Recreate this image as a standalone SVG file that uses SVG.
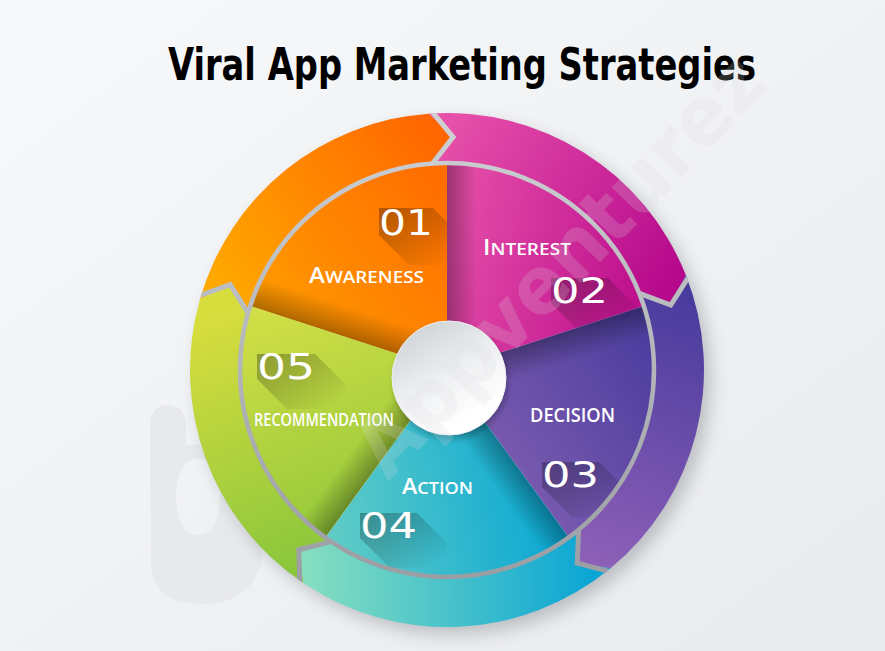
<svg xmlns="http://www.w3.org/2000/svg" width="885" height="651" viewBox="0 0 885 651">
<defs>
<style>
.lbl{font-family:"Open Sans","Liberation Sans",sans-serif;font-weight:600;fill:#ffffff}
.num{font-family:"DejaVu Sans","Liberation Sans",sans-serif;font-size:36px;fill:#ffffff}
.sep{fill:none;stroke:url(#gray);stroke-width:5;stroke-linejoin:miter}
.wsh{fill:url(#wsh)}
.ls{fill:url(#ls)}
</style>
<linearGradient id="bg" x1="0" y1="0" x2="1" y2="1"><stop offset="0" stop-color="#f8f9fa"/><stop offset="1" stop-color="#e8eaed"/></linearGradient>
<linearGradient id="gray" gradientUnits="userSpaceOnUse" x1="0" y1="110" x2="0" y2="630"><stop offset="0" stop-color="#cfd1d4"/><stop offset="1" stop-color="#95989d"/></linearGradient>
<linearGradient id="wsh" x1="0" y1="0" x2="0" y2="1"><stop offset="0" stop-color="#000" stop-opacity="0.32"/><stop offset="1" stop-color="#000" stop-opacity="0"/></linearGradient>
<linearGradient id="ls" x1="0" y1="0" x2="1" y2="1"><stop offset="0" stop-color="#000" stop-opacity="0.3"/><stop offset="0.45" stop-color="#000" stop-opacity="0.16"/><stop offset="0.9" stop-color="#000" stop-opacity="0"/></linearGradient>
<linearGradient id="hub" x1="0.2" y1="0.1" x2="0.65" y2="0.85"><stop offset="0" stop-color="#d3d6d9"/><stop offset="0.5" stop-color="#eceef0"/><stop offset="1" stop-color="#ffffff"/></linearGradient>
<linearGradient id="gO" gradientUnits="userSpaceOnUse" x1="205" y1="300" x2="445" y2="120"><stop offset="0" stop-color="#ffad00"/><stop offset="1" stop-color="#ff6300"/></linearGradient>
<linearGradient id="gOi" gradientUnits="userSpaceOnUse" x1="255" y1="320" x2="445" y2="175"><stop offset="0" stop-color="#ff9d00"/><stop offset="1" stop-color="#ff6c00"/></linearGradient>
<linearGradient id="gP" gradientUnits="userSpaceOnUse" x1="445" y1="130" x2="690" y2="290"><stop offset="0" stop-color="#e750aa"/><stop offset="1" stop-color="#b2048a"/></linearGradient>
<linearGradient id="gPi" gradientUnits="userSpaceOnUse" x1="450" y1="250" x2="640" y2="300"><stop offset="0" stop-color="#e34ba7"/><stop offset="1" stop-color="#bd0f8d"/></linearGradient>
<linearGradient id="gU" gradientUnits="userSpaceOnUse" x1="590" y1="565" x2="700" y2="290"><stop offset="0" stop-color="#8e60b8"/><stop offset="1" stop-color="#463a9c"/></linearGradient>
<linearGradient id="gUi" gradientUnits="userSpaceOnUse" x1="470" y1="450" x2="650" y2="330"><stop offset="0" stop-color="#7e5db1"/><stop offset="1" stop-color="#4b3d9e"/></linearGradient>
<linearGradient id="gT" gradientUnits="userSpaceOnUse" x1="300" y1="580" x2="610" y2="570"><stop offset="0" stop-color="#88dfc0"/><stop offset="1" stop-color="#03a2d6"/></linearGradient>
<linearGradient id="gTi" gradientUnits="userSpaceOnUse" x1="330" y1="540" x2="570" y2="500"><stop offset="0" stop-color="#60ccc6"/><stop offset="1" stop-color="#05a5d5"/></linearGradient>
<linearGradient id="gG" gradientUnits="userSpaceOnUse" x1="205" y1="320" x2="300" y2="575"><stop offset="0" stop-color="#d8dd3e"/><stop offset="1" stop-color="#88c63c"/></linearGradient>
<linearGradient id="gGi" gradientUnits="userSpaceOnUse" x1="250" y1="310" x2="330" y2="530"><stop offset="0" stop-color="#d3df46"/><stop offset="1" stop-color="#96c93b"/></linearGradient>
<filter id="blur" x="-20%" y="-20%" width="140%" height="140%"><feGaussianBlur stdDeviation="9"/></filter>
<filter id="blur2" x="-30%" y="-30%" width="160%" height="160%"><feGaussianBlur stdDeviation="3"/></filter>
<clipPath id="wc"><path d="M0,0 L207,0 A207,207 0 0 1 63.97,196.87 Z"/></clipPath>
<clipPath id="outer"><circle cx="447" cy="370" r="257"/></clipPath>
<clipPath id="pie"><circle cx="447" cy="370" r="207"/></clipPath>
</defs>

<rect width="885" height="651" fill="url(#bg)"/>
<path d="M150,425 C150,398 186,398 186,425 L186,445 C232,440 262,472 262,520 L262,560 C252,600 222,606 190,603 C165,602 152,585 151,565 Z M198,459 C215,459 220,480 220,497 C220,520 212,535 198,535 C184,535 176,520 176,497 C176,478 182,459 198,459 Z" fill="#e7e9ec" fill-rule="evenodd"/>

<text x="168" y="80" font-family="'DejaVu Sans','Liberation Sans',sans-serif" font-weight="bold" font-size="45" font-stretch="condensed" textLength="588" lengthAdjust="spacingAndGlyphs" fill="#000000">Viral App Marketing Strategies</text>

<circle cx="454" cy="378" r="256" fill="#5a5f66" opacity="0.35" filter="url(#blur)"/>

<g id="awareness">
<path d="M447,370 L250.13,306.03 A207,207 0 0 1 447,163 Z" fill="url(#gOi)"/>
<g transform="translate(447 370) rotate(198)"><rect width="207" height="30" class="wsh" clip-path="url(#wc)"/></g>
<path d="M199.96,299.16 A257,257 0 0 1 429.07,113.63 L453.10,137.08 L432.56,163.50 A207,207 0 0 0 248.02,312.94 L230.21,284.61 Z" fill="url(#gO)"/>
<polygon class="ls" points="379,208 433,208 463,238 463,265 409,265 379,235" clip-path="url(#pie)"/>
<text class="num" x="379" y="235" textLength="54" lengthAdjust="spacingAndGlyphs">01</text>
<text class="lbl" x="309" y="283" textLength="115" lengthAdjust="spacingAndGlyphs"><tspan font-size="21">A</tspan><tspan font-size="16.5">WARENESS</tspan></text>
</g>

<g id="interest">
<path d="M447,370 L447,163 A207,207 0 0 1 643.87,306.03 Z" fill="url(#gPi)"/>
<g transform="translate(447 370) rotate(270)"><rect width="207" height="30" class="wsh" clip-path="url(#wc)"/></g>
<path d="M429.07,113.63 A257,257 0 0 1 685.79,274.97 L670.75,305.00 L639.33,293.46 A207,207 0 0 0 432.56,163.50 L453.10,137.08 Z" fill="url(#gP)"/>
<polygon class="ls" points="551,278 608,278 638,308 638,333 581,333 551,303" clip-path="url(#pie)"/>
<text class="num" x="551" y="303" textLength="57" lengthAdjust="spacingAndGlyphs">02</text>
<text class="lbl" x="483" y="255" textLength="88" lengthAdjust="spacingAndGlyphs"><tspan font-size="21">I</tspan><tspan font-size="16.5">NTEREST</tspan></text>
</g>

<g id="decision">
<path d="M447,370 L643.87,306.03 A207,207 0 0 1 568.67,537.47 Z" fill="url(#gUi)"/>
<g transform="translate(447 370) rotate(-18)"><rect width="207" height="30" class="wsh" clip-path="url(#wc)"/></g>
<path d="M685.79,274.97 A257,257 0 0 1 610.47,568.31 L577.29,563.17 L578.67,529.73 A207,207 0 0 0 639.33,293.46 L670.75,305.00 Z" fill="url(#gU)"/>
<polygon class="ls" points="542,462 599,462 629,492 629,517 572,517 542,487" clip-path="url(#pie)"/>
<text class="num" x="542" y="487" textLength="57" lengthAdjust="spacingAndGlyphs">03</text>
<text class="lbl" x="530" y="422" font-size="19" textLength="85" lengthAdjust="spacingAndGlyphs">DECISION</text>
</g>

<g id="action">
<path d="M447,370 L568.67,537.47 A207,207 0 0 1 325.33,537.47 Z" fill="url(#gTi)"/>
<g transform="translate(447 370) rotate(54)"><rect width="207" height="30" class="wsh" clip-path="url(#wc)"/></g>
<path d="M610.47,568.31 A257,257 0 0 1 303.29,583.06 L298.79,549.79 L331.25,541.61 A207,207 0 0 0 578.67,529.73 L577.29,563.17 Z" fill="url(#gT)"/>
<polygon class="ls" points="360,513 417,513 447,543 447,568 390,568 360,538" clip-path="url(#pie)"/>
<text class="num" x="360" y="538" textLength="57" lengthAdjust="spacingAndGlyphs">04</text>
<text class="lbl" x="402" y="494" textLength="71" lengthAdjust="spacingAndGlyphs"><tspan font-size="21">A</tspan><tspan font-size="16.5">CTION</tspan></text>
</g>

<g id="recommendation">
<path d="M447,370 L325.33,537.47 A207,207 0 0 1 250.13,306.03 Z" fill="url(#gGi)"/>
<g transform="translate(447 370) rotate(126)"><rect width="207" height="30" class="wsh" clip-path="url(#wc)"/></g>
<path d="M303.29,583.06 A257,257 0 0 1 199.96,299.16 L230.21,284.61 L248.02,312.94 A207,207 0 0 0 331.25,541.61 L298.79,549.79 Z" fill="url(#gG)"/>
<polygon class="ls" points="257,354 315,354 345,384 345,409 287,409 257,379" clip-path="url(#pie)"/>
<text class="num" x="257" y="379" textLength="58" lengthAdjust="spacingAndGlyphs">05</text>
<text class="lbl" x="254" y="426" font-size="17.5" textLength="140" lengthAdjust="spacingAndGlyphs">RECOMMENDATION</text>
</g>

<g id="connectors">
<circle cx="447" cy="370" r="207" fill="none" stroke="url(#gray)" stroke-width="4.5"/>
<g clip-path="url(#outer)">
<polyline class="sep" points="194.19,297.51 230.21,284.61 248.02,312.94"/>
<polyline class="sep" points="428.65,107.64 453.10,137.08 432.56,163.50"/>
<polyline class="sep" points="691.36,272.76 670.75,305.00 639.33,293.46"/>
<polyline class="sep" points="614.29,572.94 577.29,563.17 578.67,529.73"/>
<polyline class="sep" points="299.93,588.04 298.79,549.79 331.25,541.61"/>
</g>
</g>

<g id="hub">
<circle cx="451" cy="382" r="57" fill="#000" opacity="0.25" filter="url(#blur2)"/>
<circle cx="449" cy="378" r="57" fill="url(#hub)" stroke="#eef0f2" stroke-width="1"/>
</g>

<text transform="translate(388 482) rotate(-46)" font-family="'DejaVu Sans',sans-serif" font-weight="bold" font-size="80" fill="#dcdee1" fill-opacity="0.2" textLength="550" lengthAdjust="spacingAndGlyphs">Appventurez</text>
</svg>
